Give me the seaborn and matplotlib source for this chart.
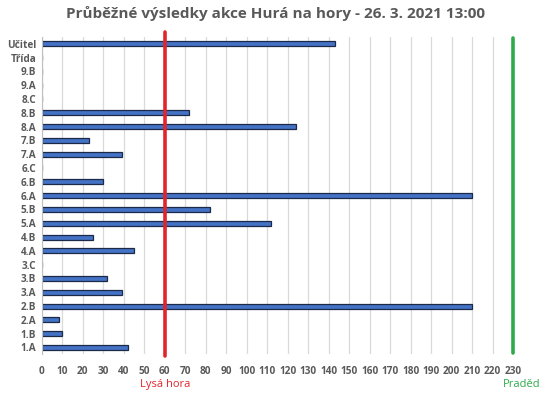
import seaborn as sns
import matplotlib.pyplot as plt
import pandas as pd

# tridy shora dolu, jak jsou v grafu
tridy = ["Učitel", "Třída", "9.B", "9.A", "8.C", "8.B", "8.A", "7.B", "7.A", "6.C",
         "6.B", "6.A", "5.B", "5.A", "4.B", "4.A", "3.C", "3.B", "3.A", "2.B",
         "2.A", "1.B", "1.A"]
km = [143, 0, 0, 0, 0, 72, 124, 23, 39, 0,
      30, 210, 82, 112, 25, 45, 0, 32, 39, 210,
      8.5, 10, 42]

cile = [60, 230]
cile_nazvy = ["Lysá hora", "Praděd"]
cile_barvy = ["#E0262B", "#2EAA4A"]

df = pd.DataFrame({"trida": tridy, "km": km})

sns.set_style("white")
plt.rcParams["font.family"] = ["Open Sans", "DejaVu Sans"]

fig, ax = plt.subplots(figsize=(5.5, 4), dpi=100)
fig.subplots_adjust(left=0.076, right=0.933, top=0.908, bottom=0.114)

sns.barplot(data=df, x="km", y="trida", order=tridy, orient="h",
            color="#4472C4", saturation=1, width=0.36,
            edgecolor="#1B2A49", linewidth=0.9, ax=ax)

ax.set_xlim(0, 230)
ax.set_xticks(range(0, 231, 10))
ax.grid(axis="x", color="#D9D9D9", linewidth=0.9)
ax.set_axisbelow(True)
for s in ["top", "right", "bottom"]:
    ax.spines[s].set_visible(False)
ax.spines["left"].set_color("#BFBFBF")

ax.tick_params(axis="both", length=0, colors="#595959")
ax.tick_params(axis="x", labelsize=7.2, pad=8)
ax.tick_params(axis="y", labelsize=7.2, pad=4)
for lab in ax.get_yticklabels() + ax.get_xticklabels():
    lab.set_fontweight("bold")
ax.set_xlabel("")
ax.set_ylabel("")

ax.axvline(cile[0], color=cile_barvy[0], linewidth=2.6, ymin=-0.005, ymax=1.015, clip_on=False)
ax.axvline(cile[1], color=cile_barvy[1], linewidth=2.6, ymin=0.005, ymax=0.995, clip_on=False)
ax.text(cile[0], -0.095, cile_nazvy[0], color=cile_barvy[0], fontsize=8,
        ha="center", va="center", transform=ax.get_xaxis_transform())
ax.text(cile[1] + 4, -0.095, cile_nazvy[1], color=cile_barvy[1], fontsize=8,
        ha="center", va="center", transform=ax.get_xaxis_transform())

fig.suptitle("Průběžné výsledky akce Hurá na hory - 26. 3. 2021 13:00",
             fontsize=11, fontweight="bold", color="#595959", y=0.985)

fig.savefig("out.png", dpi=100)
